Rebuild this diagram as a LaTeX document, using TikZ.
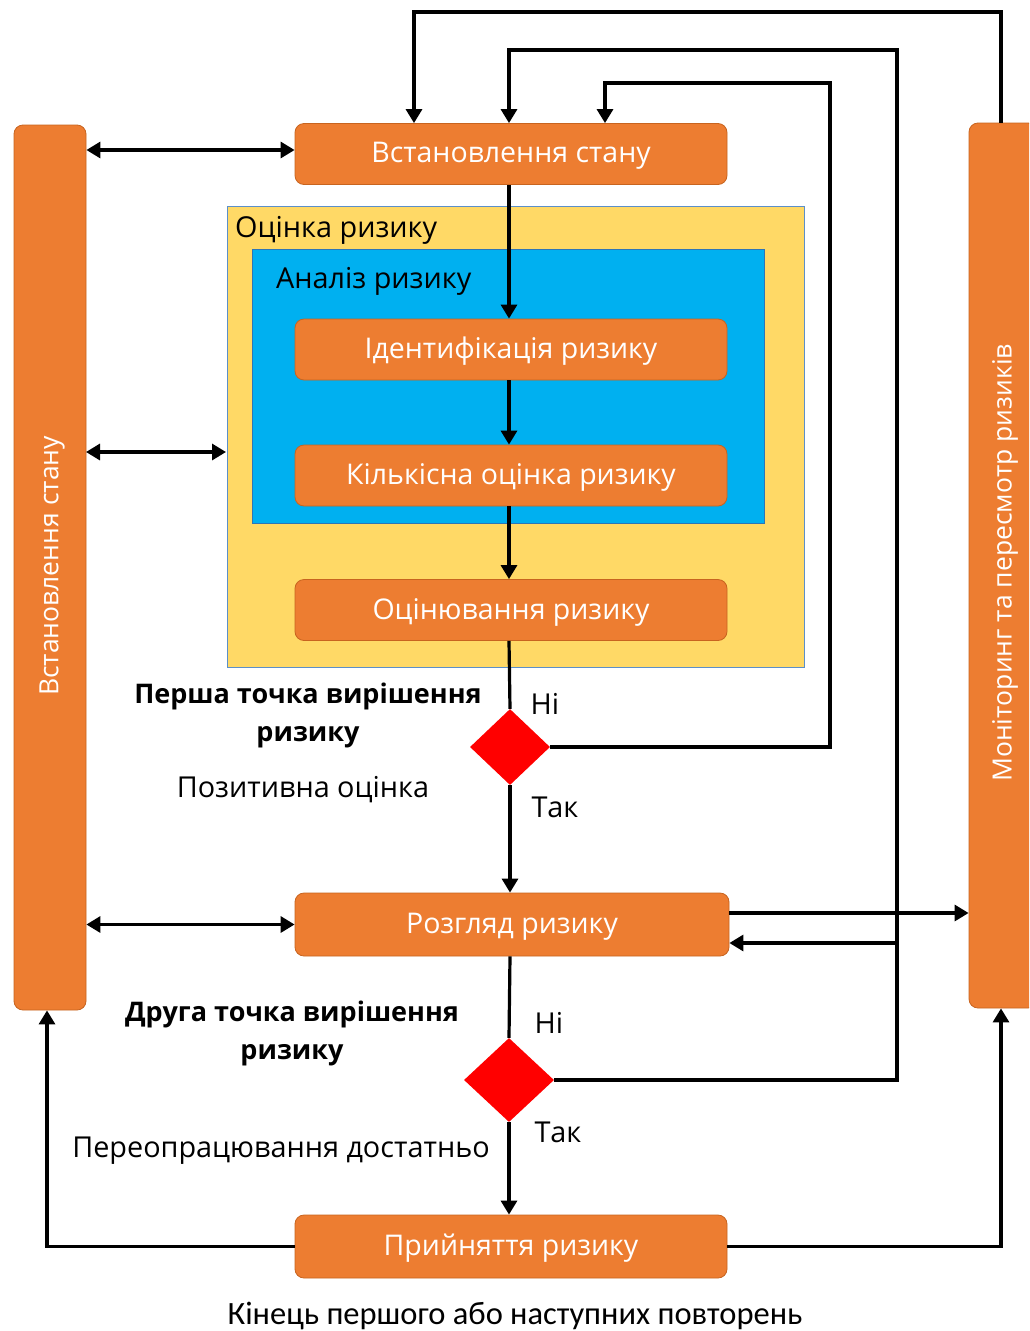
\documentclass[tikz,border=0pt]{standalone}
\usepackage{fontspec}
\setmainfont{Open Sans}
\newfontfamily\condfont{Carlito}
\usetikzlibrary{shapes.geometric,arrows.meta}
\definecolor{org}{HTML}{ED7D31}
\definecolor{orgdk}{HTML}{C8641F}
\definecolor{yel}{HTML}{FFD966}
\definecolor{yelbd}{HTML}{5B8FC9}
\definecolor{blu}{HTML}{00B0F0}
\definecolor{blubd}{HTML}{2E75B6}
\tikzset{
  box/.style={draw=orgdk, line width=0.8, fill=org, rounded corners=9, minimum width=432, minimum height=61, inner sep=0, text=white, font=\fontsize{28.5}{32}\selectfont},
  boxtext/.style={text=white, font=\fontsize{28.5}{32}\selectfont, inner sep=0},
  bar/.style={draw=orgdk, line width=0.8, fill=org, rounded corners=9, inner sep=0},
  bartext/.style={rotate=90, text=white, font=\fontsize{26.5}{30}\selectfont, inner sep=0},
  lab/.style={font=\fontsize{28.8}{38}\selectfont, align=center, inner sep=0},
  blab/.style={font=\fontsize{27}{38}\selectfont\bfseries, align=center, inner sep=0},
  dec/.style={diamond, fill=red, inner sep=0},
  conn/.style={line width=3.2, draw=black},
  arr/.style={conn, -{Triangle[length=14,width=16]}},
  darr/.style={conn, {Triangle[length=14,width=16]}-{Triangle[length=14,width=16]}},
}
\begin{document}
\begin{tikzpicture}[x=1pt,y=-1pt]
\useasboundingbox (0,0) rectangle (1029,1331);
\clip (0,0) rectangle (1029,1331);
\fill[white] (0,0) rectangle (1029,1331);

% side bars
\node[bar, minimum width=72, minimum height=885] (lbar) at (50,567.5) {};
\node[bartext] (lbartxt) at (52,566) {Встановлення стану};
\node[bar, minimum width=68, minimum height=885] (rbar) at (1003,565.5) {};
\node[bartext] (rbartxt) at (1005,563) {Моніторинг та пересмотр ризиків};

% containers
\node[fill=yel, draw=yelbd, line width=1, minimum width=577, minimum height=461, inner sep=0] (ocin) at (515.5,436.5) {};
\node[lab, anchor=west] (ocintxt) at (235,230) {Оцінка ризику};
\node[fill=blu, draw=blubd, line width=1, minimum width=512, minimum height=274, inner sep=0] (anal) at (508,386) {};
\node[lab, anchor=west] (analtxt) at (276,281) {Аналіз ризику};

% boxes
\node[box] (top) at (511,154) {};
\node[boxtext] (toptxt) at (511,156) {Встановлення стану};
\node[box] (ident) at (511,349.5) {};
\node[boxtext] (identtxt) at (511,351.5) {Ідентифікація ризику};
\node[box] (kilk) at (511,475.5) {};
\node[boxtext] (kilktxt) at (511,477.5) {Кількісна оцінка ризику};
\node[box] (ocn) at (511,610) {};
\node[boxtext] (ocntxt) at (511,612) {Оцінювання ризику};
\node[box, minimum width=434, minimum height=63] (roz) at (512,924.5) {};
\node[boxtext] (roztxt) at (512,926.5) {Розгляд ризику};
\node[box, minimum height=63] (pr) at (511,1246.5) {};
\node[boxtext] (prtxt) at (511,1248.5) {Прийняття ризику};

% decisions
\node[dec, minimum width=80, minimum height=76] (d1) at (510,747) {};
\node[dec, minimum width=90, minimum height=84] (d2) at (509,1080) {};

% labels
\node[blab] (q1) at (308,715) {Перша точка вирішення\\ризику};
\node[lab] (pos) at (303,790) {Позитивна оцінка};
\node[lab] (n1) at (545,704) {Ні};
\node[lab] (t1) at (555,807) {Так};
\node[blab] (q2) at (292,1033) {Друга точка вирішення\\ризику};
\node[lab] (pere) at (281,1151) {Переопрацювання достатньо};
\node[lab] (n2) at (549,1023) {Ні};
\node[lab] (t2) at (558,1132) {Так};
\node[font=\condfont\fontsize{32.5}{36}\selectfont, inner sep=0] (end) at (515,1316) {Кінець першого або наступних повторень};

% coordinates for loops
\coordinate (l1a) at (1001,12);
\coordinate (l1b) at (414,12);
\coordinate (l2a) at (897,1080);
\coordinate (l2b) at (897,50);
\coordinate (l3a) at (830,747);
\coordinate (l3b) at (830,83);
\coordinate (rin) at (899,943);
\coordinate (yl) at (86,452);
\coordinate (yr) at (226,452);

% main flow
\draw[arr] (top.south -| 509,0) -- (ident.north -| 509,0);
\draw[arr] (ident.south -| 509,0) -- (kilk.north -| 509,0);
\draw[arr] (kilk.south -| 509,0) -- (ocn.north -| 509,0);
\draw[conn] (ocn.south -| 509,0) -- (d1.north);
\draw[arr] (d1.south) -- (roz.north -| 510,0);
\draw[conn] (roz.south -| 510,0) -- (d2.north);
\draw[arr] (d2.south) -- (pr.north -| 509,0);

% loops back to top
\draw[arr] (rbar.north -| 1001,0) -- (l1a) -- (l1b) -- (top.north -| l1b);
\draw[arr] (d2.east) -- (l2a) -- (l2b) -- (509,50) -- (top.north -| 509,0);
\draw[arr] (d1.east) -- (l3a) -- (l3b) -- (605,83) -- (top.north -| 605,0);

% side connections
\draw[darr] (lbar.east |- 0,150) -- (top.west |- 0,150);
\draw[darr] (yl) -- (yr);
\draw[darr] (lbar.east |- roz.west) -- (roz.west);
\draw[arr] (roz.east |- 0,913) -- (rbar.west |- 0,913);
\draw[arr] (rin) -- (roz.east |- rin);
\draw[arr] (pr.west) -| (lbar.south -| 47,0);
\draw[arr] (pr.east) -| (rbar.south -| 1001,0);
\end{tikzpicture}
\end{document}
